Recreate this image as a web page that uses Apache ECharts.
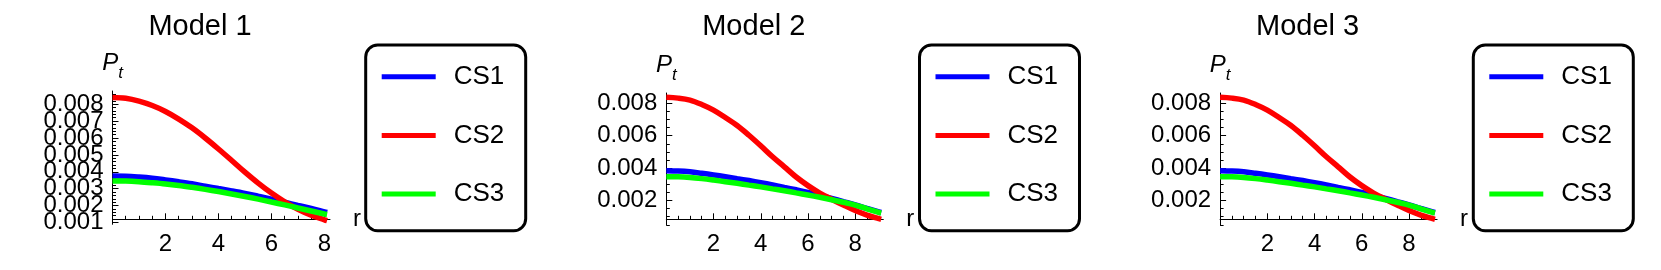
<!DOCTYPE html>
<html><head><meta charset="utf-8">
<script src="https://cdn.jsdelivr.net/npm/echarts@6/dist/echarts.min.js"></script>
<style>html,body{margin:0;padding:0;background:#fff}#c{width:1661px;height:270px}</style>
</head><body><div id="c"></div>
<script>
// ---------- data ----------
const titles = ['Model 1', 'Model 2', 'Model 3'];
const seriesNames = ['CS1', 'CS2', 'CS3'];
const seriesColors = ['#0000ff', '#ff0000', '#00ff00'];

const r1 = [0, 0.5, 1, 1.5, 2, 2.5, 3, 3.5, 4, 4.5, 5, 5.5, 6, 6.5, 7, 7.5, 8, 8.1];
const m1_cs1 = [0.00375, 0.00374, 0.00369, 0.00362, 0.00352, 0.00341, 0.00329, 0.00315, 0.00301, 0.00287, 0.00272, 0.00255, 0.00238, 0.00220, 0.00201, 0.00183, 0.00163, 0.00159];
const m1_cs2 = [0.00840, 0.00835, 0.00818, 0.00792, 0.00757, 0.00712, 0.00660, 0.00600, 0.00535, 0.00467, 0.00398, 0.00333, 0.00274, 0.00222, 0.00178, 0.00143, 0.00116, 0.00111];
const m1_cs3 = [0.00346, 0.00345, 0.00341, 0.00335, 0.00328, 0.00319, 0.00308, 0.00296, 0.00283, 0.00269, 0.00254, 0.00238, 0.00221, 0.00204, 0.00186, 0.00168, 0.00150, 0.00147];

const r2 = [0, 0.5, 1, 1.5, 2, 2.5, 3, 3.5, 4, 4.5, 5, 5.5, 6, 6.5, 7, 7.5, 8, 8.5, 9, 9.1];
const m2_cs1 = [0.00384, 0.00382, 0.00377, 0.00368, 0.00358, 0.00347, 0.00335, 0.00323, 0.00310, 0.00296, 0.00281, 0.00266, 0.00250, 0.00232, 0.00213, 0.00193, 0.00173, 0.00151, 0.00130, 0.00126];
const m2_cs2 = [0.00837, 0.00832, 0.00820, 0.00793, 0.00758, 0.00712, 0.00663, 0.00603, 0.00538, 0.00470, 0.00408, 0.00345, 0.00292, 0.00246, 0.00208, 0.00172, 0.00138, 0.00110, 0.00088, 0.00084];
const m2_cs3 = [0.00347, 0.00346, 0.00342, 0.00335, 0.00326, 0.00316, 0.00306, 0.00295, 0.00284, 0.00272, 0.00260, 0.00247, 0.00234, 0.00220, 0.00205, 0.00189, 0.00172, 0.00149, 0.00126, 0.00122];

const r3 = [0, 0.5, 1, 1.5, 2, 2.5, 3, 3.5, 4, 4.5, 5, 5.5, 6, 6.5, 7, 7.5, 8, 8.5, 9, 9.1];
const m3_cs1 = [0.00384, 0.00382, 0.00377, 0.00368, 0.00358, 0.00347, 0.00335, 0.00323, 0.00310, 0.00296, 0.00281, 0.00266, 0.00250, 0.00232, 0.00213, 0.00193, 0.00173, 0.00151, 0.00130, 0.00126];
const m3_cs2 = [0.00837, 0.00832, 0.00820, 0.00793, 0.00758, 0.00712, 0.00663, 0.00603, 0.00538, 0.00470, 0.00408, 0.00345, 0.00292, 0.00246, 0.00208, 0.00172, 0.00138, 0.00110, 0.00088, 0.00084];
const m3_cs3 = [0.00347, 0.00346, 0.00342, 0.00335, 0.00326, 0.00316, 0.00306, 0.00295, 0.00284, 0.00272, 0.00260, 0.00247, 0.00234, 0.00220, 0.00205, 0.00189, 0.00172, 0.00149, 0.00126, 0.00122];

const xTickLabels = [2, 4, 6, 8];
const yTickLabels1 = [0.001, 0.002, 0.003, 0.004, 0.005, 0.006, 0.007, 0.008];
const yTickLabels2 = [0.002, 0.004, 0.006, 0.008];
const yTickLabels3 = [0.002, 0.004, 0.006, 0.008];

// ---------- layout / style ----------
const FONT = '"Liberation Sans", Arial, Helvetica, sans-serif';
const PANEL_DX = 553.8;
const panels = [
  {title: titles[0], r: r1, ys: [m1_cs1, m1_cs2, m1_cs3], yLabels: yTickLabels1,
   xMax: 8.21, yMin: 0.000893, yMax: 0.008781, yMinorStep: 0.0002,
   left: 112.5, top: 91, width: 217.5, height: 133.3, xOffset: -5},
  {title: titles[1], r: r2, ys: [m2_cs1, m2_cs2, m2_cs3], yLabels: yTickLabels2,
   xMax: 9.19, yMin: 0.000488, yMax: 0.008636, yMinorStep: 0.0005,
   left: 112.5 + PANEL_DX, top: 93, width: 217, height: 132, xOffset: -5.7},
  {title: titles[2], r: r3, ys: [m3_cs1, m3_cs2, m3_cs3], yLabels: yTickLabels3,
   xMax: 9.19, yMin: 0.000488, yMax: 0.008636, yMinorStep: 0.0005,
   left: 112.5 + 2 * PANEL_DX, top: 93, width: 217, height: 132, xOffset: -5.7}
];

function minorTicks(lo, hi, step, majors) {
  const out = [];
  const n0 = Math.ceil(lo / step - 1e-9), n1 = Math.floor(hi / step + 1e-9);
  for (let k = n0; k <= n1; k++) {
    const v = +(k * step).toFixed(6);
    if (!majors.some(m => Math.abs(m - v) < step * 1e-3)) out.push(v);
  }
  return out;
}

const option = {
  animation: false,
  backgroundColor: '#ffffff',
  title: [], grid: [], xAxis: [], yAxis: [], series: [], legend: []
};

panels.forEach((p, i) => {
  const dx = i * PANEL_DX;
  option.grid.push({left: p.left, top: p.top, width: p.width, height: p.height,
                    containLabel: false, outerBoundsMode: 'none'});
  option.title.push({text: p.title, left: 200 + dx, top: 12, textAlign: 'center', padding: 0,
    textStyle: {fontSize: 29, fontWeight: 'normal', color: '#000', fontFamily: FONT}});

  const xMinor = minorTicks(0.01, p.xMax, 0.5, xTickLabels);
  const yMinor = minorTicks(p.yMin, p.yMax, p.yMinorStep, p.yLabels);
  // labels split over two label-only axes so that overlapping labels are all kept (as in the reference)
  const yLabA = p.yLabels.filter((v, k) => k % 2 === 0);
  const yLabB = p.yLabels.filter((v, k) => k % 2 === 1);
  const yBase = 3 * i; // first y axis index of this panel

  // major x axis
  option.xAxis.push({
    gridIndex: i, type: 'value', min: 0, max: p.xMax, position: 'bottom', offset: p.xOffset,
    axisLine: {show: true, onZero: false, lineStyle: {color: '#000', width: 1}},
    axisTick: {show: true, inside: true, length: 6, customValues: xTickLabels, lineStyle: {color: '#000', width: 1}},
    axisLabel: {show: true, customValues: xTickLabels, margin: 13, fontSize: 24, color: '#000', fontFamily: FONT,
                showMinLabel: true, showMaxLabel: true, hideOverlap: false},
    splitLine: {show: false},
    name: 'r', nameLocation: 'end', nameGap: 23,
    nameTextStyle: {fontSize: 24, color: '#000', fontFamily: FONT, verticalAlign: 'middle', align: 'left'}
  });
  // minor x ticks
  option.xAxis.push({
    gridIndex: i, type: 'value', min: 0, max: p.xMax, position: 'bottom', offset: p.xOffset,
    axisLine: {show: false, onZero: false},
    axisTick: {show: true, inside: true, length: 3.5, customValues: xMinor, lineStyle: {color: '#000', width: 1}},
    axisLabel: {show: false}, splitLine: {show: false}
  });
  // major y axis (line, major ticks, labels A, name)
  option.yAxis.push({
    gridIndex: i, type: 'value', min: p.yMin, max: p.yMax, position: 'left',
    axisLine: {show: true, onZero: false, lineStyle: {color: '#000', width: 1}},
    axisTick: {show: true, inside: true, length: 6, customValues: p.yLabels, lineStyle: {color: '#000', width: 1}},
    axisLabel: {show: true, customValues: yLabA, margin: 9, fontSize: 24, color: '#000', fontFamily: FONT,
                showMinLabel: true, showMaxLabel: true, hideOverlap: false,
                formatter: v => v.toFixed(3)},
    splitLine: {show: false},
    name: '{p|P}{t|t}', nameLocation: 'end', nameGap: 9,
    nameTextStyle: {align: 'center', verticalAlign: 'bottom', rich: {
      p: {fontSize: 24, fontStyle: 'italic', color: '#000', fontFamily: FONT, lineHeight: 31, verticalAlign: 'top'},
      t: {fontSize: 17, fontStyle: 'italic', color: '#000', fontFamily: FONT, lineHeight: 19, verticalAlign: 'bottom'}
    }}
  });
  // y labels B
  option.yAxis.push({
    gridIndex: i, type: 'value', min: p.yMin, max: p.yMax, position: 'left',
    axisLine: {show: false, onZero: false}, axisTick: {show: false},
    axisLabel: {show: yLabB.length > 0, customValues: yLabB, margin: 9, fontSize: 24, color: '#000', fontFamily: FONT,
                showMinLabel: true, showMaxLabel: true, hideOverlap: false,
                formatter: v => v.toFixed(3)},
    splitLine: {show: false}
  });
  // minor y ticks
  option.yAxis.push({
    gridIndex: i, type: 'value', min: p.yMin, max: p.yMax, position: 'left',
    axisLine: {show: false, onZero: false},
    axisTick: {show: true, inside: true, length: 3.5, customValues: yMinor, lineStyle: {color: '#000', width: 1}},
    axisLabel: {show: false}, splitLine: {show: false}
  });

  seriesNames.forEach((name, s) => {
    option.series.push({
      type: 'line', name: name, xAxisIndex: 2 * i, yAxisIndex: yBase,
      data: p.r.map((x, k) => [x, p.ys[s][k]]),
      symbol: 'none', showSymbol: false, smooth: 0.35, clip: false,
      lineStyle: {width: 5.5, color: seriesColors[s]}, itemStyle: {color: seriesColors[s]},
      emphasis: {disabled: true}, z: 2 + s
    });
  });

  option.legend.push({
    left: 365.7 + dx, top: 45, orient: 'vertical', data: seriesNames, selectedMode: false,
    icon: 'rect', itemWidth: 54, itemHeight: 5, itemGap: 19.7,
    padding: [12.2, 16, 17.2, 16],
    borderColor: '#000', borderWidth: 3, borderRadius: 12, backgroundColor: '#fff',
    textStyle: {fontSize: 26, color: '#000', fontFamily: FONT, lineHeight: 26, width: 56, padding: [13, 0, 0, 13]}
  });
});

const chart = echarts.init(document.getElementById('c'), null, {renderer: 'canvas'});
chart.setOption(option);
</script>
</body></html>
